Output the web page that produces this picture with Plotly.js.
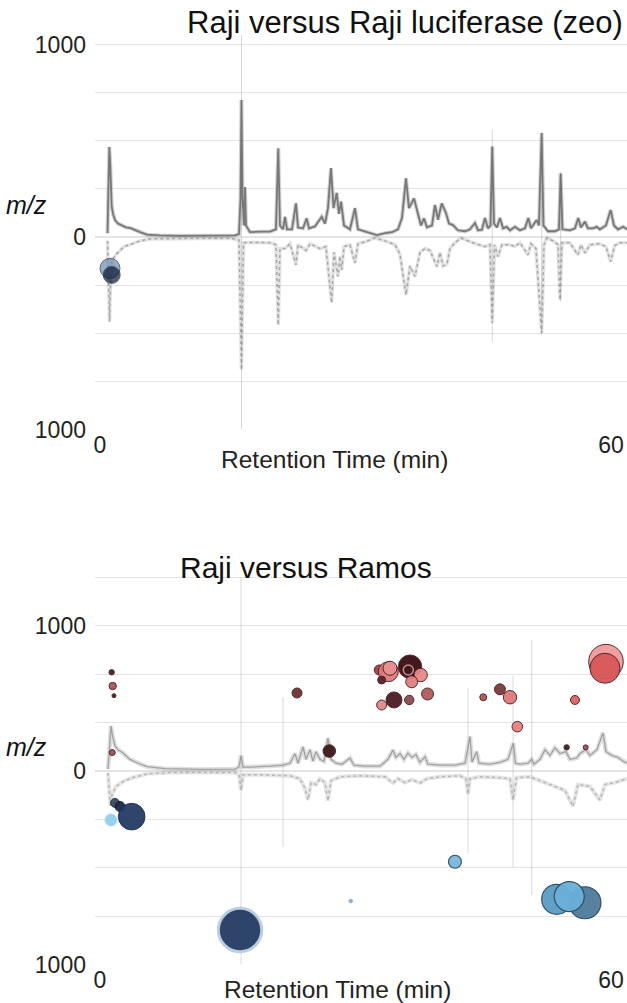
<!DOCTYPE html>
<html>
<head>
<meta charset="utf-8">
<script src="https://cdn.plot.ly/plotly-3.0.1.min.js"></script>
<style>html,body{margin:0;padding:0;background:#fff;}#chart{width:627px;height:1003px;}</style>
</head>
<body>
<div id="chart"></div>
<script>
// ---------- Panel 1: Raji versus Raji luciferase (zeo) ----------
const topUpperTime = [0.88,1.00,1.09,1.20,1.37,1.53,1.76,2.11,2.58,3.05,3.52,4.11,4.70,5.52,7.04,9.39,11.74,14.09,15.85,16.32,16.50,16.61,16.73,16.91,17.02,17.14,17.61,18.79,19.96,20.66,20.93,21.13,21.49,21.72,21.96,22.54,23.01,23.25,23.84,24.27,24.54,25.24,26.03,26.42,26.77,27.12,27.42,27.79,28.06,28.30,28.65,29.35,29.94,30.29,31.11,31.94,32.52,33.46,34.28,34.99,35.46,35.93,36.28,36.87,37.34,37.69,38.04,38.39,38.98,39.33,39.69,40.12,40.62,40.98,41.45,42.03,42.86,43.44,44.03,44.38,44.85,45.20,45.55,45.85,46.06,46.26,46.61,46.96,47.32,47.75,48.14,48.73,49.31,49.90,50.29,50.60,51.27,51.54,51.86,52.07,52.60,53.42,53.89,54.09,54.30,55.18,55.77,56.16,56.47,56.94,57.30,57.88,58.32,58.70,59.41,59.96,60.35,60.82,61.44,61.88];
const topUpperVal = [20,300,468,380,160,120,88,70,58,50,47,35,25,12,8,6,6,6,8,15,200,712,200,60,260,60,25,28,28,40,461,60,40,105,40,40,175,50,45,97,45,55,105,70,150,358,150,229,120,184,60,40,150,40,28,18,10,20,25,40,100,305,150,200,110,60,97,50,60,166,90,175,125,70,62,35,30,40,73,35,38,99,45,60,470,70,50,99,45,53,35,53,35,45,99,45,88,60,540,60,30,30,40,330,40,35,45,99,50,80,45,45,53,40,60,140,60,40,53,40];

const topLowerTime = [0.88,1.00,1.12,1.23,1.41,2.00,2.82,3.52,4.70,5.87,8.22,11.74,15.26,16.32,16.61,16.85,17.61,19.96,20.66,20.93,21.13,21.72,22.31,23.01,23.25,24.19,24.66,25.83,26.53,27.20,27.47,27.94,28.18,28.38,28.65,29.35,29.94,30.29,31.11,32.29,33.46,34.64,35.22,35.93,36.40,36.98,37.57,38.16,38.75,39.57,39.92,40.27,40.74,41.09,41.68,42.39,43.44,44.38,45.20,45.79,46.06,46.32,46.73,47.20,48.14,48.73,49.31,50.25,50.60,51.19,51.86,52.13,52.48,53.19,53.78,54.01,54.24,55.18,56.12,56.47,56.94,57.53,58.70,59.41,59.96,60.43,61.01,61.88];
const topLowerVal = [-20,-250,-440,-250,-120,-85,-50,-40,-20,-10,-8,-6,-6,-15,-690,-30,-28,-30,-40,-457,-60,-60,-35,-145,-40,-70,-35,-60,-50,-342,-80,-205,-100,-171,-50,-40,-135,-35,-25,-5,-20,-40,-90,-301,-150,-205,-80,-60,-70,-154,-80,-150,-140,-60,-30,-5,-25,-40,-50,-40,-447,-40,-102,-40,-40,-50,-30,-93,-35,-60,-499,-40,-5,-20,-40,-327,-30,-30,-93,-40,-83,-40,-35,-50,-128,-45,-30,-30];

// faint full-height ion traces in panel 1
const topSpikeTime = [16.61, 46.06, 51.86, 54.09];
const topSpikeHigh = [1050, 556, 547, 339];
const topSpikeLow  = [-1050, -544, -509, -336];

// features (bubbles) panel 1
const topFeatTime  = [1.17, 1.37];
const topFeatMz    = [-163, -197];
const topFeatSize  = [20, 17];
const topFeatColor = ['#6a8db0', '#0d1832'];

// ---------- Panel 2: Raji versus Ramos ----------
const botUpperTime = [0.94,1.12,1.29,1.47,1.76,2.11,2.70,3.52,4.46,5.52,7.63,11.74,15.85,16.32,16.56,16.79,17.61,19.96,21.49,22.31,22.90,23.25,23.84,24.19,24.66,25.01,25.36,25.83,26.30,26.77,27.12,27.71,28.41,29.35,29.82,31.11,32.87,33.81,34.40,34.75,35.22,35.69,36.16,36.63,37.10,37.57,38.16,38.51,39.92,41.68,42.86,43.44,43.68,44.23,44.50,45.79,46.96,47.90,48.53,48.79,49.31,50.25,50.69,50.96,51.66,52.25,52.83,53.42,54.01,54.71,55.18,55.97,56.36,57.06,57.53,58.35,59.06,59.41,60.11,60.82,61.40,61.88];
const botUpperVal = [10,150,232,180,130,110,93,60,40,22,12,8,10,20,80,20,20,25,30,40,90,40,125,60,110,50,100,60,50,170,60,40,35,67,30,25,25,60,108,70,90,60,93,70,85,45,74,35,30,30,40,178,45,100,40,35,45,60,143,40,35,40,60,35,60,110,80,120,90,100,60,67,90,110,80,110,197,100,80,70,50,40];

const botLowerTime = [0.94,1.12,1.23,1.41,1.88,2.70,3.76,5.52,8.22,15.85,16.32,16.56,16.79,18.79,22.31,23.48,24.07,24.42,24.78,25.36,25.83,26.42,26.77,27.12,28.18,30.53,33.46,34.40,34.99,35.81,36.63,37.57,38.39,39.92,42.27,42.97,43.21,43.44,44.62,46.96,48.14,48.50,48.90,50.49,52.25,53.42,54.59,55.53,56.12,57.53,58.70,59.29,60.43,61.88];
const botLowerVal = [-10,-100,-180,-120,-80,-55,-35,-15,-8,-8,-20,-100,-20,-20,-25,-40,-90,-150,-60,-70,-40,-60,-155,-50,-30,-25,-30,-62,-40,-60,-45,-62,-40,-30,-25,-40,-120,-40,-30,-35,-40,-150,-35,-30,-60,-80,-100,-183,-70,-80,-150,-70,-60,-40];

const botSpikeTime = [16.56, 21.49, 43.21, 48.50, 50.69];
const botSpikeHigh = [1000, 382, 429, 491, 677];
const botSpikeLow  = [-1050, -393, -424, -496, -641];

// up-regulated features (red family)
const upTime  = [1.37,1.49,1.64,1.44,23.13,26.92,32.79,33.85,34.05,33.07,36.40,37.65,36.60,34.52,33.07,36.31,38.46,45.00,46.96,48.14,49.00,55.77,54.79,57.03,59.41,59.29];
const upMz    = [510,439,389,95,403,103,522,513,531,470,539,496,461,367,341,367,398,381,422,381,229,367,122,122,565,531];
const upSize  = [5.4,7.4,4,6,10,12.6,10,20,14,8,23.4,13.4,12,16,10,9.4,12,7,11,13.4,10.6,9,5.4,5,34.6,30];
const upColor = ['#4a2020','#a85a5a','#3a2020','#9c5050','#6a3535','#3a1a1a','#a04545','#e07a7a','#e89090','#5a2020','#3a0c10','#e88888','#e08080','#4a1c22','#e08888','#8a4a50','#b05a5a','#b05555','#7a3a3a','#e07a7a','#e88080','#e06060','#3a2020','#a05060','#f29a9a','#d85858'];
// open ring inside the cluster
const ringTime = [36.20];
const ringMz   = [522];
const ringSize = [10];

// down-regulated features (blue family)
const downTime  = [1.76,2.35,3.72,1.29,16.44,29.44,41.68,56.94,53.62,55.10];
const downMz    = [-165,-184,-236,-253,-822,-672,-469,-681,-663,-649];
const downSize  = [9,10,26.6,12,43.4,4,13,32,30,30];
const downColor = ['#3a4a5a','#1a2a4a','#243c64','#8fd0ef','#233b63','#7fb0d8','#7ab8d8','#4d7b9c','#5a9cc4','#6ab0d8'];
const downLine  = ['#2a3440','#10182a','#1a2a48','#a8dcf4','#b8cce0','#7fb0d8','#2a4a60','#2a4058','#2a4a62','#2a4a62'];
const downLineW = [1,1,1,1,3,0.5,1.2,1.2,1.2,1.2];

// axis tick labels
const yTickVals = [-1000,-750,-500,-250,0,250,500,750,1000];
const yTickTextTop = ['1000','','','','0','','','','1000'];
const yTickTextBot = ['1000','','','','0','','','1000',''];
const xTickVals = [0, 60];
const xTickText = ['0', '60'];

// ---------- build ----------
function spikeSeg(t, hi, lo) {
  const xs = [], ys = [];
  for (let i = 0; i < t.length; i++) { xs.push(t[i], t[i], null); ys.push(lo[i], hi[i], null); }
  return {xs, ys};
}
const ts = spikeSeg(topSpikeTime, topSpikeHigh, topSpikeLow);
const bs = spikeSeg(botSpikeTime, botSpikeHigh, botSpikeLow);

const traces = [
  // panel 1
  {x: ts.xs, y: ts.ys, xaxis:'x', yaxis:'y', mode:'lines', line:{color:'rgba(140,140,140,0.35)', width:1}, hoverinfo:'skip'},
  {x: topLowerTime, y: topLowerVal, xaxis:'x', yaxis:'y', mode:'lines', line:{color:'rgba(160,160,160,0.3)', width:3.5}, hoverinfo:'skip'},
  {x: topLowerTime, y: topLowerVal, xaxis:'x', yaxis:'y', mode:'lines', line:{color:'rgba(120,120,120,0.55)', width:1.5, dash:'dot'}, hoverinfo:'skip'},
  {x: topUpperTime, y: topUpperVal, xaxis:'x', yaxis:'y', mode:'lines', line:{color:'rgba(150,150,150,0.45)', width:4}, hoverinfo:'skip'},
  {x: topUpperTime, y: topUpperVal, xaxis:'x', yaxis:'y', mode:'lines', line:{color:'rgba(105,105,105,0.85)', width:1.8}, hoverinfo:'skip'},
  {x: topFeatTime, y: topFeatMz, xaxis:'x', yaxis:'y', mode:'markers',
   marker:{size: topFeatSize, color: topFeatColor, line:{color:'#1a2a40', width:1}}},
  // panel 2
  {x: bs.xs, y: bs.ys, xaxis:'x2', yaxis:'y2', mode:'lines', line:{color:'rgba(150,150,150,0.35)', width:1}, hoverinfo:'skip'},
  {x: botLowerTime, y: botLowerVal, xaxis:'x2', yaxis:'y2', mode:'lines', line:{color:'rgba(170,170,170,0.3)', width:4}, hoverinfo:'skip'},
  {x: botLowerTime, y: botLowerVal, xaxis:'x2', yaxis:'y2', mode:'lines', line:{color:'rgba(140,140,140,0.5)', width:1.5, dash:'dot'}, hoverinfo:'skip'},
  {x: botUpperTime, y: botUpperVal, xaxis:'x2', yaxis:'y2', mode:'lines', line:{color:'rgba(175,175,175,0.4)', width:4.5}, hoverinfo:'skip'},
  {x: botUpperTime, y: botUpperVal, xaxis:'x2', yaxis:'y2', mode:'lines', line:{color:'rgba(135,135,135,0.7)', width:1.3}, hoverinfo:'skip'},
  {x: upTime, y: upMz, xaxis:'x2', yaxis:'y2', mode:'markers',
   marker:{size: upSize, color: upColor, opacity:0.95, line:{color:'#4a2226', width:1}}},
  {x: ringTime, y: ringMz, xaxis:'x2', yaxis:'y2', mode:'markers',
   marker:{size: ringSize, color:'rgba(0,0,0,0)', line:{color:'#f2c0c0', width:1.5}}},
  {x: downTime, y: downMz, xaxis:'x2', yaxis:'y2', mode:'markers',
   marker:{size: downSize, color: downColor, opacity:0.95, line:{color: downLine, width: downLineW}}}
];

const font = 'Liberation Sans, Arial, Helvetica, sans-serif';
const xCommon = {range:[-0.59, 61.88], domain:[0.1515, 1], showgrid:false, zeroline:false, showline:false,
  tickvals: xTickVals, ticktext: xTickText, ticks:'', tickfont:{family:font, size:23, color:'#222'}};
const yCommon = {range:[-1000, 1050], tickvals: yTickVals, showgrid:true, gridcolor:'#e4e4e4', gridwidth:1.2,
  zeroline:false, showline:false, ticks:'', ticklabelstandoff:8, tickfont:{family:font, size:23, color:'#222'}};

const layout = {
  width: 627, height: 1003,
  margin:{l:0, r:0, t:0, b:0},
  paper_bgcolor:'#ffffff', plot_bgcolor:'#ffffff',
  showlegend:false,
  xaxis: Object.assign({}, xCommon, {anchor:'y'}),
  yaxis: Object.assign({}, yCommon, {domain:[0.5718, 0.9652], ticktext: yTickTextTop, anchor:'x'}),
  xaxis2: Object.assign({}, xCommon, {anchor:'y2'}),
  yaxis2: Object.assign({}, yCommon, {domain:[0.0384, 0.4339], ticktext: yTickTextBot, anchor:'x2'}),
  annotations: [
    {text:'Raji versus Raji luciferase (zeo)', xref:'paper', yref:'paper', x:0.997, y:0.978, xanchor:'right', yanchor:'middle', showarrow:false, font:{family:font, size:31, color:'#111'}},
    {text:'Raji versus Ramos', xref:'paper', yref:'paper', x:0.488, y:0.4337, xanchor:'center', yanchor:'middle', showarrow:false, font:{family:font, size:30, color:'#111'}},
    {text:'Retention Time (min)', xref:'paper', yref:'paper', x:0.534, y:0.5414, xanchor:'center', yanchor:'middle', showarrow:false, font:{family:font, size:24.5, color:'#222'}},
    {text:'Retention Time (min)', xref:'paper', yref:'paper', x:0.539, y:0.013, xanchor:'center', yanchor:'middle', showarrow:false, font:{family:font, size:24.5, color:'#222'}},
    {text:'<i>m/z</i>', xref:'paper', yref:'paper', x:0.043, y:0.7956, xanchor:'center', yanchor:'middle', showarrow:false, font:{family:font, size:25, color:'#111'}},
    {text:'<i>m/z</i>', xref:'paper', yref:'paper', x:0.043, y:0.2552, xanchor:'center', yanchor:'middle', showarrow:false, font:{family:font, size:25, color:'#111'}}
  ]
};

Plotly.newPlot('chart', traces, layout, {staticPlot:true, displayModeBar:false});
</script>
</body>
</html>
